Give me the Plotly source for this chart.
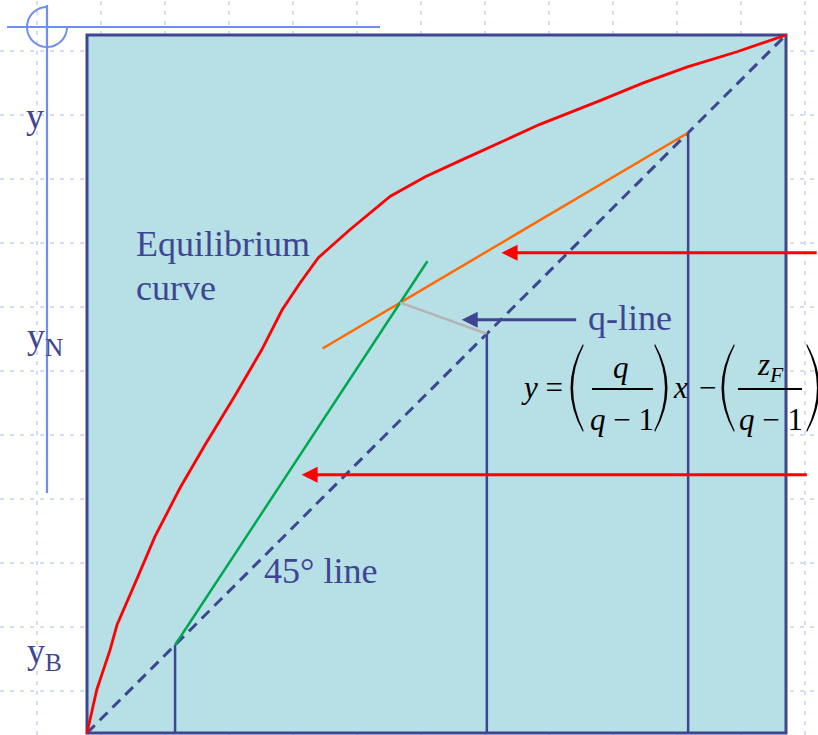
import numpy as np
import plotly.graph_objects as go

W, H = 818, 735

# ---------------- data (mole fractions) ----------------
eq_x = [0.0, 0.014, 0.033, 0.043, 0.069, 0.097, 0.133, 0.169, 0.212, 0.250,
        0.279, 0.305, 0.331, 0.359, 0.376, 0.434, 0.484, 0.534, 0.584, 0.648,
        0.734, 0.795, 0.858, 0.930, 1.0]
eq_y = [0.0, 0.062, 0.119, 0.155, 0.215, 0.281, 0.351, 0.413, 0.484, 0.549,
        0.606, 0.645, 0.681, 0.706, 0.721, 0.769, 0.797, 0.820, 0.843, 0.872,
        0.906, 0.931, 0.954, 0.976, 1.0]
diag = [0.0, 1.0]
x_B = 0.126          # bottoms composition
x_F = 0.572          # feed composition
x_D = 0.860          # distillate composition
x_int, y_int = 0.448, 0.6165   # intersection of the operating lines
rect_start_x = 0.337           # lower end of rectifying line drawn
strip_end_x = 0.487            # upper end of stripping line drawn

m_r = (x_D - y_int) / (x_D - x_int)
m_s = (y_int - x_B) / (x_int - x_B)
rect_x = [rect_start_x, x_D]
rect_y = [x_D + m_r * (rect_start_x - x_D), x_D]
strip_x = [x_B, strip_end_x]
strip_y = [x_B, x_B + m_s * (strip_end_x - x_B)]
q_x = [x_int, x_F]
q_y = [y_int, x_F]

arrow1_y, arrow1_tip, arrow1_tail = 0.688, 0.593, 1.046
arrow2_y, arrow2_tip, arrow2_tail = 0.370, 0.307, 1.032
arrowq_y, arrowq_tip, arrowq_tail = 0.592, 0.536, 0.702

NAVY = "#3f4691"
SERIF = "'Liberation Serif', 'Times New Roman', 'DejaVu Serif', serif"

def pxx(v):
    return v / W

def pxy(v):
    return 1 - v / H

fig = go.Figure()

fig.add_trace(go.Scatter(x=diag, y=diag, mode="lines",
                         line=dict(color=NAVY, width=3, dash="11px,7px")))
fig.add_trace(go.Scatter(x=eq_x, y=eq_y, mode="lines",
                         line=dict(color="#ff0000", width=2.8)))
fig.add_trace(go.Scatter(x=rect_x, y=rect_y, mode="lines",
                         line=dict(color="#ff6a00", width=2.5)))
fig.add_trace(go.Scatter(x=strip_x, y=strip_y, mode="lines",
                         line=dict(color="#00a651", width=2.5)))
fig.add_trace(go.Scatter(x=q_x, y=q_y, mode="lines",
                         line=dict(color="#b4b4b4", width=2.5)))
for xv in [x_B, x_F, x_D]:
    fig.add_trace(go.Scatter(x=[xv, xv], y=[xv, 0], mode="lines",
                             line=dict(color=NAVY, width=2.5)))

shapes = []
# dotted background grid (slide template)
for k in range(13):
    xp = 37 + 64 * k
    shapes.append(dict(type="line", xref="paper", yref="paper",
                       x0=pxx(xp), x1=pxx(xp), y0=0, y1=1, layer="below",
                       line=dict(color="#d0dcf8", width=2, dash="4px,6px")))
for k in range(11):
    yp = 51 + 64 * k
    shapes.append(dict(type="line", xref="paper", yref="paper",
                       x0=0, x1=1, y0=pxy(yp), y1=pxy(yp), layer="below",
                       line=dict(color="#d0dcf8", width=2, dash="4px,6px")))
# crosshair decoration
shapes.append(dict(type="line", xref="paper", yref="paper",
                   x0=pxx(7), x1=pxx(380), y0=pxy(27), y1=pxy(27), layer="below",
                   line=dict(color="#6f8ff0", width=2)))
shapes.append(dict(type="line", xref="paper", yref="paper",
                   x0=pxx(47), x1=pxx(47), y0=pxy(5), y1=pxy(493), layer="below",
                   line=dict(color="#6f8ff0", width=2.2)))
t = np.linspace(np.pi / 2, 2 * np.pi, 40)
ax_ = 47 + 20 * np.cos(t)
ay_ = 27 - 20 * np.sin(t)
path = "M" + " L".join(f"{pxx(a):.5f},{pxy(b):.5f}" for a, b in zip(ax_, ay_))
shapes.append(dict(type="path", xref="paper", yref="paper", path=path, layer="below",
                   line=dict(color="#6f8ff0", width=2)))
# plot box
shapes.append(dict(type="rect", xref="x", yref="y", x0=0, x1=1, y0=0, y1=1,
                   layer="below", fillcolor="#b6dfe6",
                   line=dict(color=NAVY, width=3)))

# equation decorations: fraction bars and parentheses
for x0, x1 in [(592, 653), (738, 802)]:
    shapes.append(dict(type="line", xref="paper", yref="paper",
                       x0=pxx(x0), x1=pxx(x1), y0=pxy(389), y1=pxy(389),
                       line=dict(color="black", width=2)))

def paren(xe, left=True):
    top, bot, mid = 344, 432, 388
    s = -1 if left else 1
    p = [(xe, top), (xe + s * 25, mid), (xe, bot), (xe - s * 0.6, bot - 1.5),
         (xe + s * 20.5, mid), (xe - s * 0.6, top + 1.5)]
    f = lambda q: f"{pxx(q[0]):.5f},{pxy(q[1]):.5f}"
    return (f"M{f(p[0])} Q{f(p[1])} {f(p[2])} L{f(p[3])} Q{f(p[4])} {f(p[5])} Z")

for xe, left in [(583, True), (655, False), (734, True), (807, False)]:
    shapes.append(dict(type="path", xref="paper", yref="paper", path=paren(xe, left),
                       fillcolor="black", line=dict(color="black", width=0)))

ann = []
def label(text, x, y, size, color=NAVY, xanchor="left"):
    ann.append(dict(text=text, x=pxx(x), y=pxy(y), xref="paper", yref="paper",
                    xanchor=xanchor, yanchor="middle", showarrow=False,
                    font=dict(family=SERIF, size=size, color=color)))

label("Equilibrium", 134, 244, 36)
label("curve", 134, 288, 36)
label("q-line", 586, 318, 36)
label("45° line", 262, 571, 36)
label("y", 24, 116, 36)
label("y<sub>N</sub>", 25, 338, 36)
label("y<sub>B</sub>", 25, 653, 36)

# equation
label("<i>y</i> =", 519, 387, 31, "black")
label("<i>q</i>", 621, 367, 31, "black", "center")
label("<i>q</i> − 1", 622, 419, 31, "black", "center")
label("<i>x</i>", 671, 387, 31, "black")
label("−", 697, 387, 31, "black")
label("<i>z<sub>F</sub></i>", 770, 367, 31, "black", "center")
label("<i>q</i> − 1", 771, 419, 31, "black", "center")

# arrows
for yv, tip, tail, col in [(arrow1_y, arrow1_tip, arrow1_tail, "#ff0000"),
                           (arrow2_y, arrow2_tip, arrow2_tail, "#ff0000"),
                           (arrowq_y, arrowq_tip, arrowq_tail, NAVY)]:
    ann.append(dict(text="", x=tip, y=yv, ax=tail, ay=yv, xref="x", yref="y",
                    axref="x", ayref="y", showarrow=True, arrowhead=2,
                    arrowsize=1.07, arrowwidth=3, arrowcolor=col, standoff=0))

fig.update_layout(
    width=W, height=H, margin=dict(l=0, r=0, t=0, b=0),
    paper_bgcolor="white", plot_bgcolor="white", showlegend=False,
    font=dict(family=SERIF),
    xaxis=dict(range=[-87 / 699, 731 / 699], visible=False, fixedrange=True),
    yaxis=dict(range=[-2 / 698, 733 / 698], visible=False, fixedrange=True),
    shapes=shapes, annotations=ann,
)

fig.write_html("out.html", config={"displayModeBar": False},
               post_script="document.body.style.margin='0';document.body.style.overflow='hidden';")
